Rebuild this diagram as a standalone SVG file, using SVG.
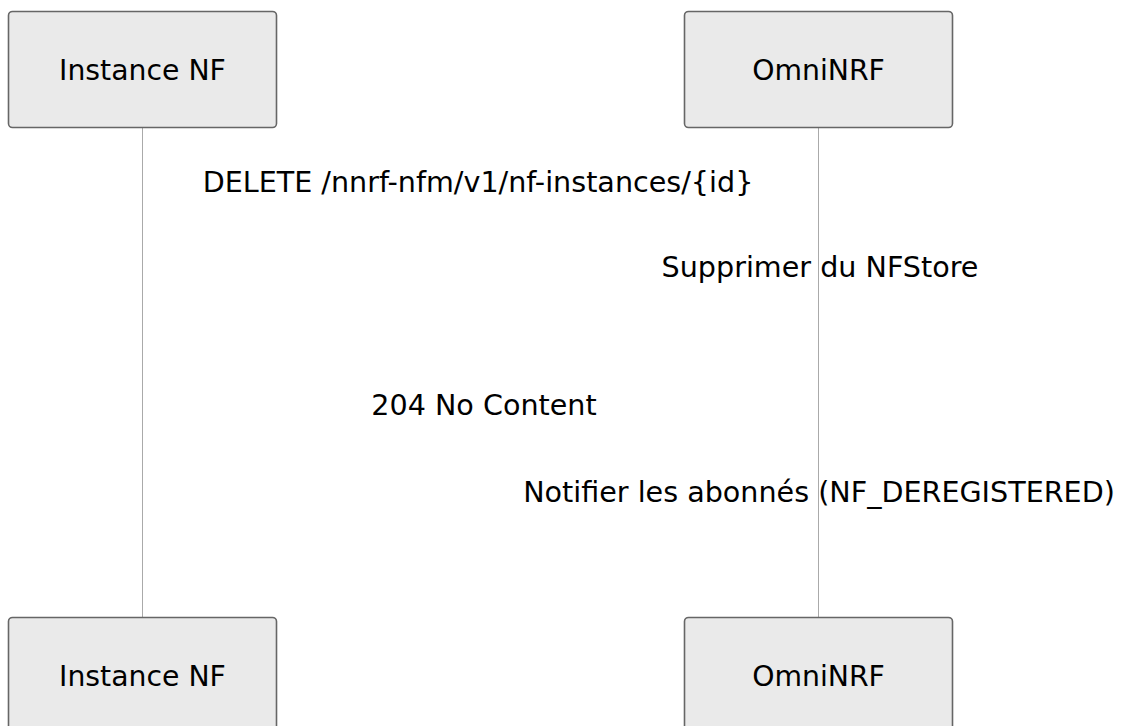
<svg xmlns="http://www.w3.org/2000/svg" width="1121" height="726" viewBox="0 0 1121 726">
<style>
.actor{fill:#eaeaea;stroke:#666;stroke-width:1.6}
.t{font-family:"DejaVu Sans",sans-serif;font-size:28.3px;fill:#000;text-anchor:middle}
.m{font-size:28.6px}
.life{stroke:#aaa;stroke-width:1}
</style>
<rect width="1121" height="726" fill="#fff"/>
<g id="lifelines">
<line class="life" x1="142.5" y1="128" x2="142.5" y2="617"/>
<line class="life" x1="818.5" y1="128" x2="818.5" y2="617"/>
</g>
<g id="actor-nf-top"><rect class="actor" x="8.5" y="11.5" width="268" height="116" rx="4"/><text class="t" x="142.5" y="79.5">Instance NF</text></g>
<g id="actor-nrf-top"><rect class="actor" x="684.5" y="11.5" width="268" height="116" rx="4"/><text class="t" x="818.5" y="79.5">OmniNRF</text></g>
<g id="actor-nf-bottom"><rect class="actor" x="8.5" y="617.5" width="268" height="116" rx="4"/><text class="t" x="142.5" y="686">Instance NF</text></g>
<g id="actor-nrf-bottom"><rect class="actor" x="684.5" y="617.5" width="268" height="116" rx="4"/><text class="t" x="818.5" y="686">OmniNRF</text></g>
<g id="messages">
<text class="t m" x="478" y="192">DELETE /nnrf-nfm/v1/nf-instances/{id}</text>
<text class="t m" x="820" y="277">Supprimer du NFStore</text>
<text class="t m" x="484" y="415">204 No Content</text>
<text class="t m" x="819" y="502">Notifier les abonnés (NF_DEREGISTERED)</text>
</g>
</svg>
